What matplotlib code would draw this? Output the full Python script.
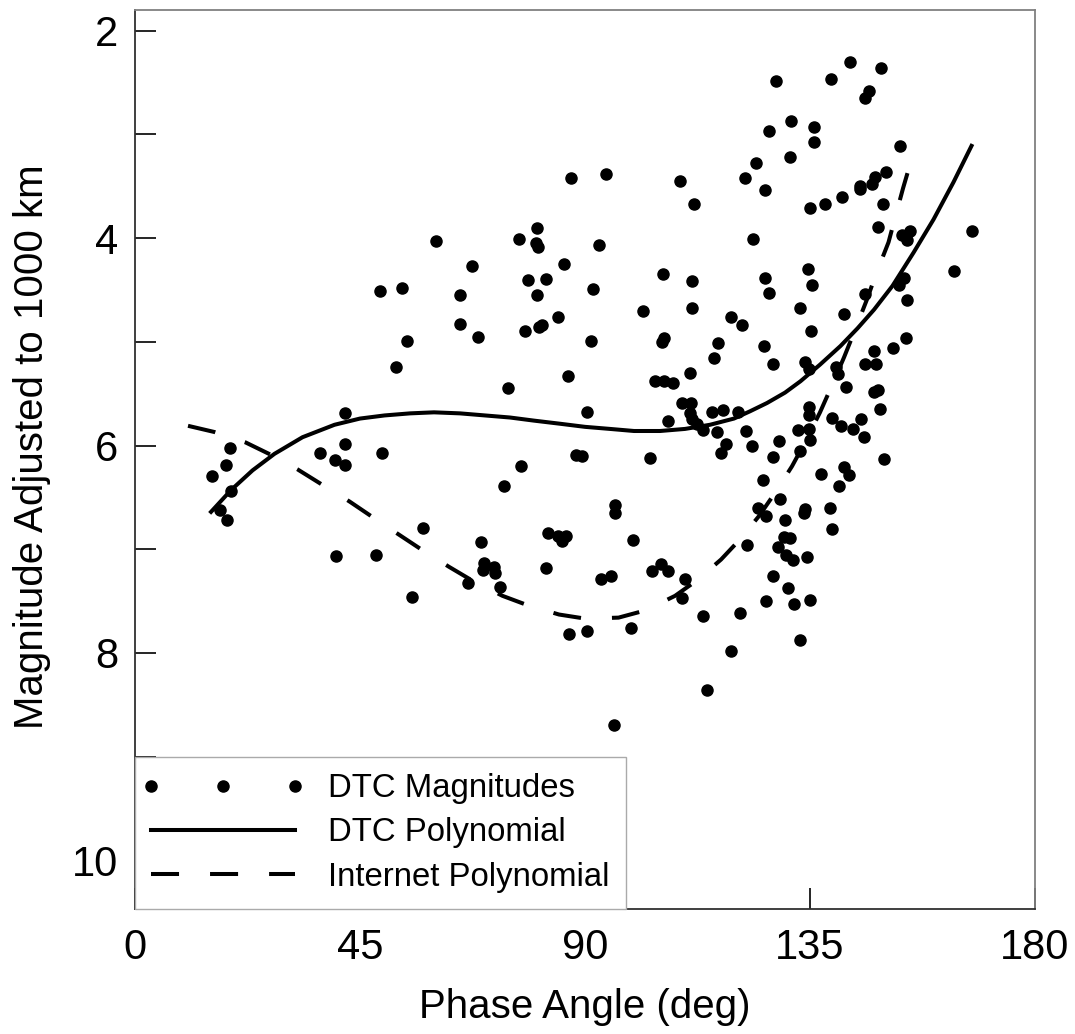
import matplotlib.pyplot as plt
from matplotlib.lines import Line2D
from matplotlib.legend_handler import HandlerLine2D

plt.rcParams['font.family'] = ['Liberation Sans', 'DejaVu Sans']

# DTC magnitudes: phase angle (deg), magnitude
phase = [
    49.0, 53.3, 60.2, 87.1, 94.2, 109.0, 111.8, 80.3, 76.8, 80.2, 80.5, 92.7,
    67.4, 85.8, 105.5, 111.4, 78.5, 82.2, 64.9, 80.3, 91.6, 101.6, 111.4,
    128.2, 142.9, 149.2, 139.2, 146.7, 146.0, 131.2, 126.8, 135.8, 135.8, 153.0,
    130.9, 124.1, 150.1, 122.0, 147.9, 147.4, 144.9, 145.0, 141.4, 126.0, 138.0,
    134.9, 149.5, 148.6, 153.3, 154.9, 154.3, 167.3, 123.6, 126.0, 134.6, 126.8,
    135.4, 145.9, 153.7, 152.7, 163.7, 154.3, 133.0, 141.8,
    54.4, 52.2, 42.0, 41.9, 37.0, 40.0, 42.0, 49.4, 19.0, 18.1, 15.4, 19.1,
    16.9, 18.3, 57.6, 40.2, 48.1, 55.3,
    65.0, 68.6, 78.0, 80.8, 81.3, 84.5, 119.1, 91.1, 105.7, 105.4, 116.6, 115.8,
    110.9, 86.5, 74.5, 103.9, 105.8, 107.5, 109.3, 111.1, 90.3, 115.3, 117.6,
    110.9, 111.4, 112.4, 113.5, 106.5, 116.4, 118.2, 117.1, 102.9, 88.1, 89.3,
    77.1, 73.8, 95.9, 96.0, 99.5, 82.6, 84.5, 86.2, 85.4, 69.2, 69.8, 69.5,
    71.8, 72.0, 82.2, 66.5, 73.0, 93.1, 95.1, 103.3, 105.1, 106.6, 110.0, 109.3,
    121.4, 135.2, 154.1, 151.5, 147.8, 125.8, 127.5, 134.0, 134.8, 145.9, 148.1,
    140.2, 140.5, 142.2, 147.8, 148.6, 148.9, 120.6, 134.8, 134.7, 139.4, 141.2,
    143.6, 145.1, 145.8, 122.2, 123.3, 132.6, 134.7, 134.9, 132.9, 128.7, 127.6,
    149.8, 137.2, 141.8, 142.8, 140.7, 125.5, 129.0, 124.6, 126.2, 134.0, 133.8,
    139.0, 130.0, 139.4, 129.8, 131.0, 122.4, 128.6, 130.1, 131.5, 134.3, 127.6,
    130.5, 126.2, 131.8, 134.9, 121.0,
    86.7, 90.3, 99.1, 113.6, 119.1, 114.4, 95.8, 132.9,
]
mag = [
    4.51, 4.48, 4.03, 3.42, 3.38, 3.45, 3.67, 3.90, 4.01, 4.05, 4.09, 4.07,
    4.27, 4.25, 4.35, 4.41, 4.40, 4.39, 4.55, 4.55, 4.49, 4.70, 4.67,
    2.48, 2.30, 2.36, 2.47, 2.58, 2.65, 2.87, 2.97, 2.93, 3.07, 3.11,
    3.22, 3.28, 3.36, 3.42, 3.41, 3.48, 3.50, 3.53, 3.60, 3.54, 3.67,
    3.71, 3.67, 3.89, 3.97, 3.93, 4.02, 3.93, 4.01, 4.38, 4.30, 4.53,
    4.45, 4.54, 4.38, 4.45, 4.32, 4.60, 4.67, 4.73,
    4.99, 5.24, 5.69, 5.99, 6.07, 6.14, 6.19, 6.07, 6.02, 6.19, 6.29, 6.44,
    6.62, 6.72, 6.80, 7.07, 7.06, 7.46,
    4.83, 4.95, 4.90, 4.86, 4.84, 4.76, 4.76, 4.99, 4.96, 5.00, 5.01, 5.16,
    5.30, 5.33, 5.45, 5.38, 5.38, 5.40, 5.59, 5.59, 5.68, 5.68, 5.66,
    5.69, 5.74, 5.79, 5.85, 5.76, 5.87, 5.99, 6.07, 6.12, 6.09, 6.10,
    6.20, 6.39, 6.57, 6.65, 6.91, 6.84, 6.87, 6.87, 6.92, 6.93, 7.13, 7.20,
    7.17, 7.23, 7.18, 7.33, 7.36, 7.29, 7.26, 7.21, 7.14, 7.21, 7.29, 7.47,
    4.84, 4.90, 4.96, 5.06, 5.09, 5.04, 5.21, 5.19, 5.26, 5.21, 5.21,
    5.24, 5.31, 5.44, 5.48, 5.46, 5.65, 5.68, 5.63, 5.71, 5.73, 5.81,
    5.84, 5.74, 5.92, 5.86, 6.00, 5.85, 5.84, 5.95, 6.05, 5.96, 6.11,
    6.13, 6.27, 6.21, 6.28, 6.39, 6.33, 6.52, 6.60, 6.68, 6.61, 6.65,
    6.60, 6.72, 6.81, 6.88, 6.89, 6.96, 6.98, 7.06, 7.10, 7.08, 7.26,
    7.37, 7.50, 7.53, 7.49, 7.62,
    7.82, 7.79, 7.76, 7.64, 7.98, 8.36, 8.70, 7.88,
]

# DTC polynomial curve, sampled off the chart
dtc_x = [15.2, 19.2, 23.5, 27.9, 33.5, 39.9, 45.0, 49.9, 55.0, 59.8, 65.0, 70.0,
         75.0, 79.8, 85.0, 90.0, 95.0, 99.8, 105.0, 110.0, 115.0, 119.8, 123.0,
         126.4, 130.0, 133.1, 137.0, 141.1, 144.5, 147.8, 151.5, 155.7, 159.7,
         163.7, 167.3]
dtc_y = [6.64, 6.43, 6.24, 6.08, 5.92, 5.80, 5.74, 5.71, 5.69, 5.68, 5.69, 5.71,
         5.73, 5.76, 5.79, 5.82, 5.84, 5.86, 5.86, 5.84, 5.80, 5.74, 5.67,
         5.59, 5.49, 5.38, 5.22, 5.04, 4.87, 4.69, 4.46, 4.14, 3.82,
         3.46, 3.11]

# Internet polynomial curve, sampled off the chart
net_x = [10.6, 15.9, 22.1, 27.2, 32.5, 37.5, 42.9, 47.5, 52.8, 57.5, 62.8, 67.7,
         73.5, 78.5, 84.8, 90.1, 96.7, 102.1, 108.0, 112.4, 117.2, 121.1, 124.8,
         128.1, 131.4, 134.1, 137.0, 139.3, 141.8, 143.8, 146.4, 148.1, 150.7,
         151.7, 153.6, 155.3]
net_y = [5.81, 5.87, 5.97, 6.09, 6.23, 6.38, 6.54, 6.69, 6.86, 7.01, 7.17, 7.31,
         7.45, 7.54, 7.63, 7.67, 7.66, 7.59, 7.45, 7.30, 7.10, 6.90, 6.68,
         6.45, 6.20, 5.96, 5.68, 5.43, 5.15, 4.91, 4.59, 4.36, 4.04,
         3.86, 3.52, 3.24]

x_ticks = [0, 45, 90, 135, 180]
y_ticks = [2, 3, 4, 5, 6, 7, 8, 9, 10]
y_labels = ['2', '', '4', '', '6', '', '8', '', '10']

fig = plt.figure(figsize=(10.75, 10.34), dpi=100)
ax = fig.add_axes([0.1256, 0.1209, 0.8372, 0.8694])

ax.plot(phase, mag, 'o', color='black', ms=8, ls='none', label='DTC Magnitudes', zorder=3)
ax.plot(dtc_x, dtc_y, color='black', lw=2.9, label='DTC Polynomial', zorder=2)
ax.plot(net_x, net_y, color='black', lw=2.9, ls=(0, (6.96, 7.7)), label='Internet Polynomial', zorder=2)

ax.set_xlim(0, 180)
ax.set_ylim(10.47, 1.80)
ax.set_xticks(x_ticks)
ax.set_yticks(y_ticks)
ax.set_yticklabels(y_labels)
ax.tick_params(direction='in', length=15, width=1.2, labelsize=30, colors='black')
ax.tick_params(axis='x', pad=14)
ax.tick_params(axis='y', pad=12)

for side in ['top', 'right']:
    ax.spines[side].set_color('#808080')
for side in ['left', 'bottom']:
    ax.spines[side].set_color('#303030')
for s in ax.spines.values():
    s.set_linewidth(1.3)

ax.set_xlabel('Phase Angle (deg)', fontsize=29, labelpad=14)
ax.set_ylabel('Magnitude Adjusted to 1000 km', fontsize=29)
ax.yaxis.set_label_coords(-0.093, 0.514)

leg = ax.legend(loc='lower left', bbox_to_anchor=(0, 0), borderaxespad=0,
                fontsize=23.7, handlelength=4.35, numpoints=3, handletextpad=1.02,
                labelspacing=0.4, fancybox=False, framealpha=1, borderpad=0.5,
                handler_map={Line2D: HandlerLine2D(marker_pad=0)})
leg.get_frame().set_edgecolor('#aaaaaa')
leg.get_frame().set_linewidth(1.0)

fig.savefig('out.png', dpi=100)
